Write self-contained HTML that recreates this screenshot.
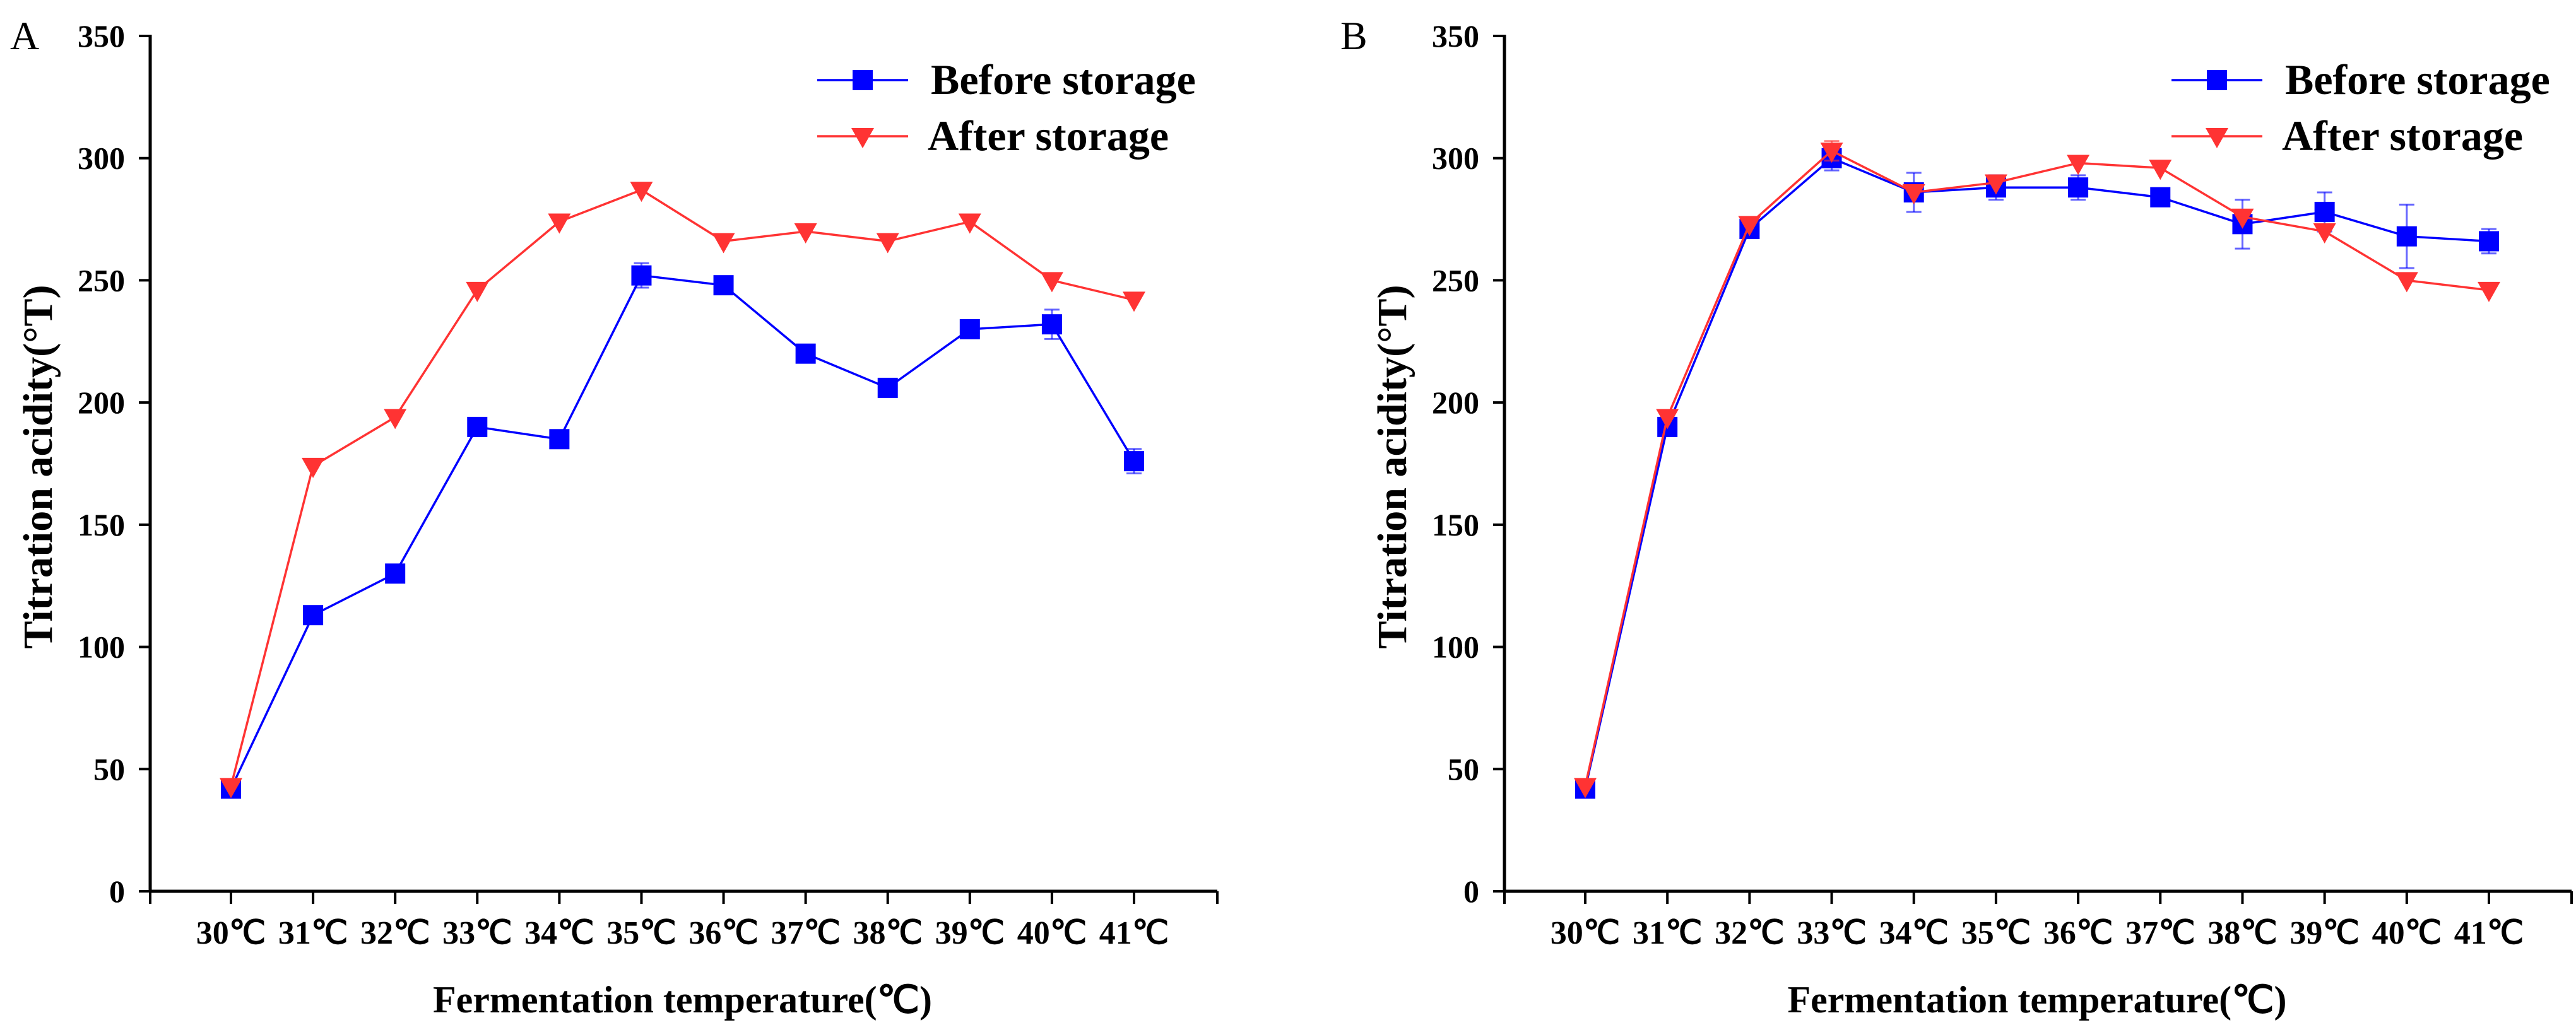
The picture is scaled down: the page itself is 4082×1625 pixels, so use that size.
<!DOCTYPE html>
<html><head><meta charset="utf-8"><style>
html,body{margin:0;padding:0;background:#fff;}
svg{display:block;}
text{font-family:"Liberation Serif",serif;}
</style></head><body>
<svg id="chart" width="4082" height="1625" viewBox="0 0 4082 1625" xmlns="http://www.w3.org/2000/svg"></svg>
<script>
const categories = ["30℃","31℃","32℃","33℃","34℃","35℃","36℃","37℃","38℃","39℃","40℃","41℃"];
const yTicks = [0,50,100,150,200,250,300,350];
const aBefore = [42,113,130,190,185,252,248,220,206,230,232,176];
const aBeforeErr = [0,0,0,0,0,5,0,0,0,0,6,5];
const aAfter = [43,174,194,246,274,287,266,270,266,274,250,242];
const aAfterErr = [0,0,0,0,0,0,0,0,0,0,0,0];
const bBefore = [42,190,271,300,286,288,288,284,273,278,268,266];
const bBeforeErr = [0,0,0,5,8,5,5,0,10,8,13,5];
const bAfter = [43,194,273,303,286,290,298,296,276,270,250,246];
const bAfterErr = [0,0,0,4,0,0,0,0,0,0,0,0];

const NS="http://www.w3.org/2000/svg";
const svg=document.getElementById('chart');
function mk(tag,attrs,parent){const e=document.createElementNS(NS,tag);for(const k in attrs)e.setAttribute(k,attrs[k]);(parent||svg).appendChild(e);return e;}

function panel(opt){
  const g=mk('g',{});
  
  
  const x0=opt.axisX, x1=opt.axisEnd, y0=1413, yTop=57;
  const xs=i=>opt.firstX+i*(opt.lastX-opt.firstX)/(categories.length-1);
  const ys=v=>y0-(v/350)*(y0-yTop);
  const lbl=mk('text',{x:opt.letterX,y:78,'font-size':64},g);lbl.textContent=opt.letter;
  
  
  const ya=mk('line',{x1:x0,y1:yTop-2,x2:x0,y2:y0+2,stroke:'#000','stroke-width':5},g);
  
  
  const xa=mk('line',{x1:x0-2,y1:y0,x2:x1,y2:y0,stroke:'#000','stroke-width':5},g);
  
  
  yTicks.forEach(v=>{
    mk('line',{x1:x0-18,y1:ys(v),x2:x0,y2:ys(v),stroke:'#000','stroke-width':4},g);
    const t=mk('text',{x:x0-40,y:ys(v)+17,'font-size':50,'font-weight':'bold','text-anchor':'end'},g);
    t.textContent=v;
    
    
  });
  [x0,x1].forEach(x=>mk('line',{x1:x,y1:y0,x2:x,y2:y0+20,stroke:'#000','stroke-width':4},g));
  categories.forEach((c,i)=>{
    mk('line',{x1:xs(i),y1:y0,x2:xs(i),y2:y0+20,stroke:'#000','stroke-width':4},g);
    const t=mk('text',{x:xs(i),y:1496,'font-size':52,'font-weight':'bold','text-anchor':'middle'},g);
    t.textContent=c;
    
    
  });
  const yt=mk('text',{x:0,y:0,'font-size':66,'font-weight':'bold','text-anchor':'middle',transform:`translate(${opt.yTitleX},740) rotate(-90)`},g);
  yt.textContent='Titration acidity(°T)';
  
  
  const xt=mk('text',{x:(opt.firstX+opt.lastX)/2,y:1605,'font-size':60,'font-weight':'bold','text-anchor':'middle'},g);
  xt.textContent='Fermentation temperature(℃)';
  
  

  function series(vals,errs,color,shape,name){
    const sg=mk('g',{},g);
    
    
    vals.forEach((v,i)=>{ if(errs[i]>0){
      const x=xs(i);
      mk('line',{x1:x,y1:ys(v+errs[i]),x2:x,y2:ys(v-errs[i]),stroke:color,'stroke-width':3,opacity:0.6},sg);
      [v+errs[i],v-errs[i]].forEach(e=>mk('line',{x1:x-12,y1:ys(e),x2:x+12,y2:ys(e),stroke:color,'stroke-width':3,opacity:0.6},sg));
    }});
    mk('polyline',{points:vals.map((v,i)=>xs(i)+','+ys(v)).join(' '),fill:'none',stroke:color,'stroke-width':3.5},sg);
    vals.forEach((v,i)=>marker(sg,xs(i),ys(v),color,shape));
  }
  function marker(p,x,y,color,shape){
    let m;
    if(shape==='sq') m=mk('rect',{x:x-16,y:y-16,width:32,height:32,fill:color},p);
    else m=mk('polygon',{points:`${x-18},${y-13} ${x+18},${y-13} ${x},${y+19}`,fill:color},p);
    
    
  }
  series(opt.before,opt.beforeErr,'#0000ff','sq','series-before-storage');
  series(opt.after,opt.afterErr,'#ff3333','tri','series-after-storage');

  const lg=mk('g',{},g);
  
  
  [['Before storage','#0000ff','sq',127],['After storage','#ff3333','tri',216]].forEach(r=>{
    const eg=mk('g',{},lg);
    
    
    mk('line',{x1:opt.legX,y1:r[3],x2:opt.legX+144,y2:r[3],stroke:r[1],'stroke-width':3.5},eg);
    marker(eg,opt.legX+72,r[3],r[1],r[2]);
    const t=mk('text',{x:opt.legX+(r[2]==='sq'?180:175),y:r[3]+22,'font-size':68,'font-weight':'bold'},eg);
    t.textContent=r[0];
  });
}
panel({letter:'A',letterX:16,axisX:238,axisEnd:1929,firstX:366,lastX:1797,yTitleX:82,legX:1295,
  before:aBefore,beforeErr:aBeforeErr,after:aAfter,afterErr:aAfterErr});
panel({letter:'B',letterX:2124,axisX:2384,axisEnd:4075,firstX:2512,lastX:3944,yTitleX:2228,legX:3441,
  before:bBefore,beforeErr:bBeforeErr,after:bAfter,afterErr:bAfterErr});
</script>
</body></html>
